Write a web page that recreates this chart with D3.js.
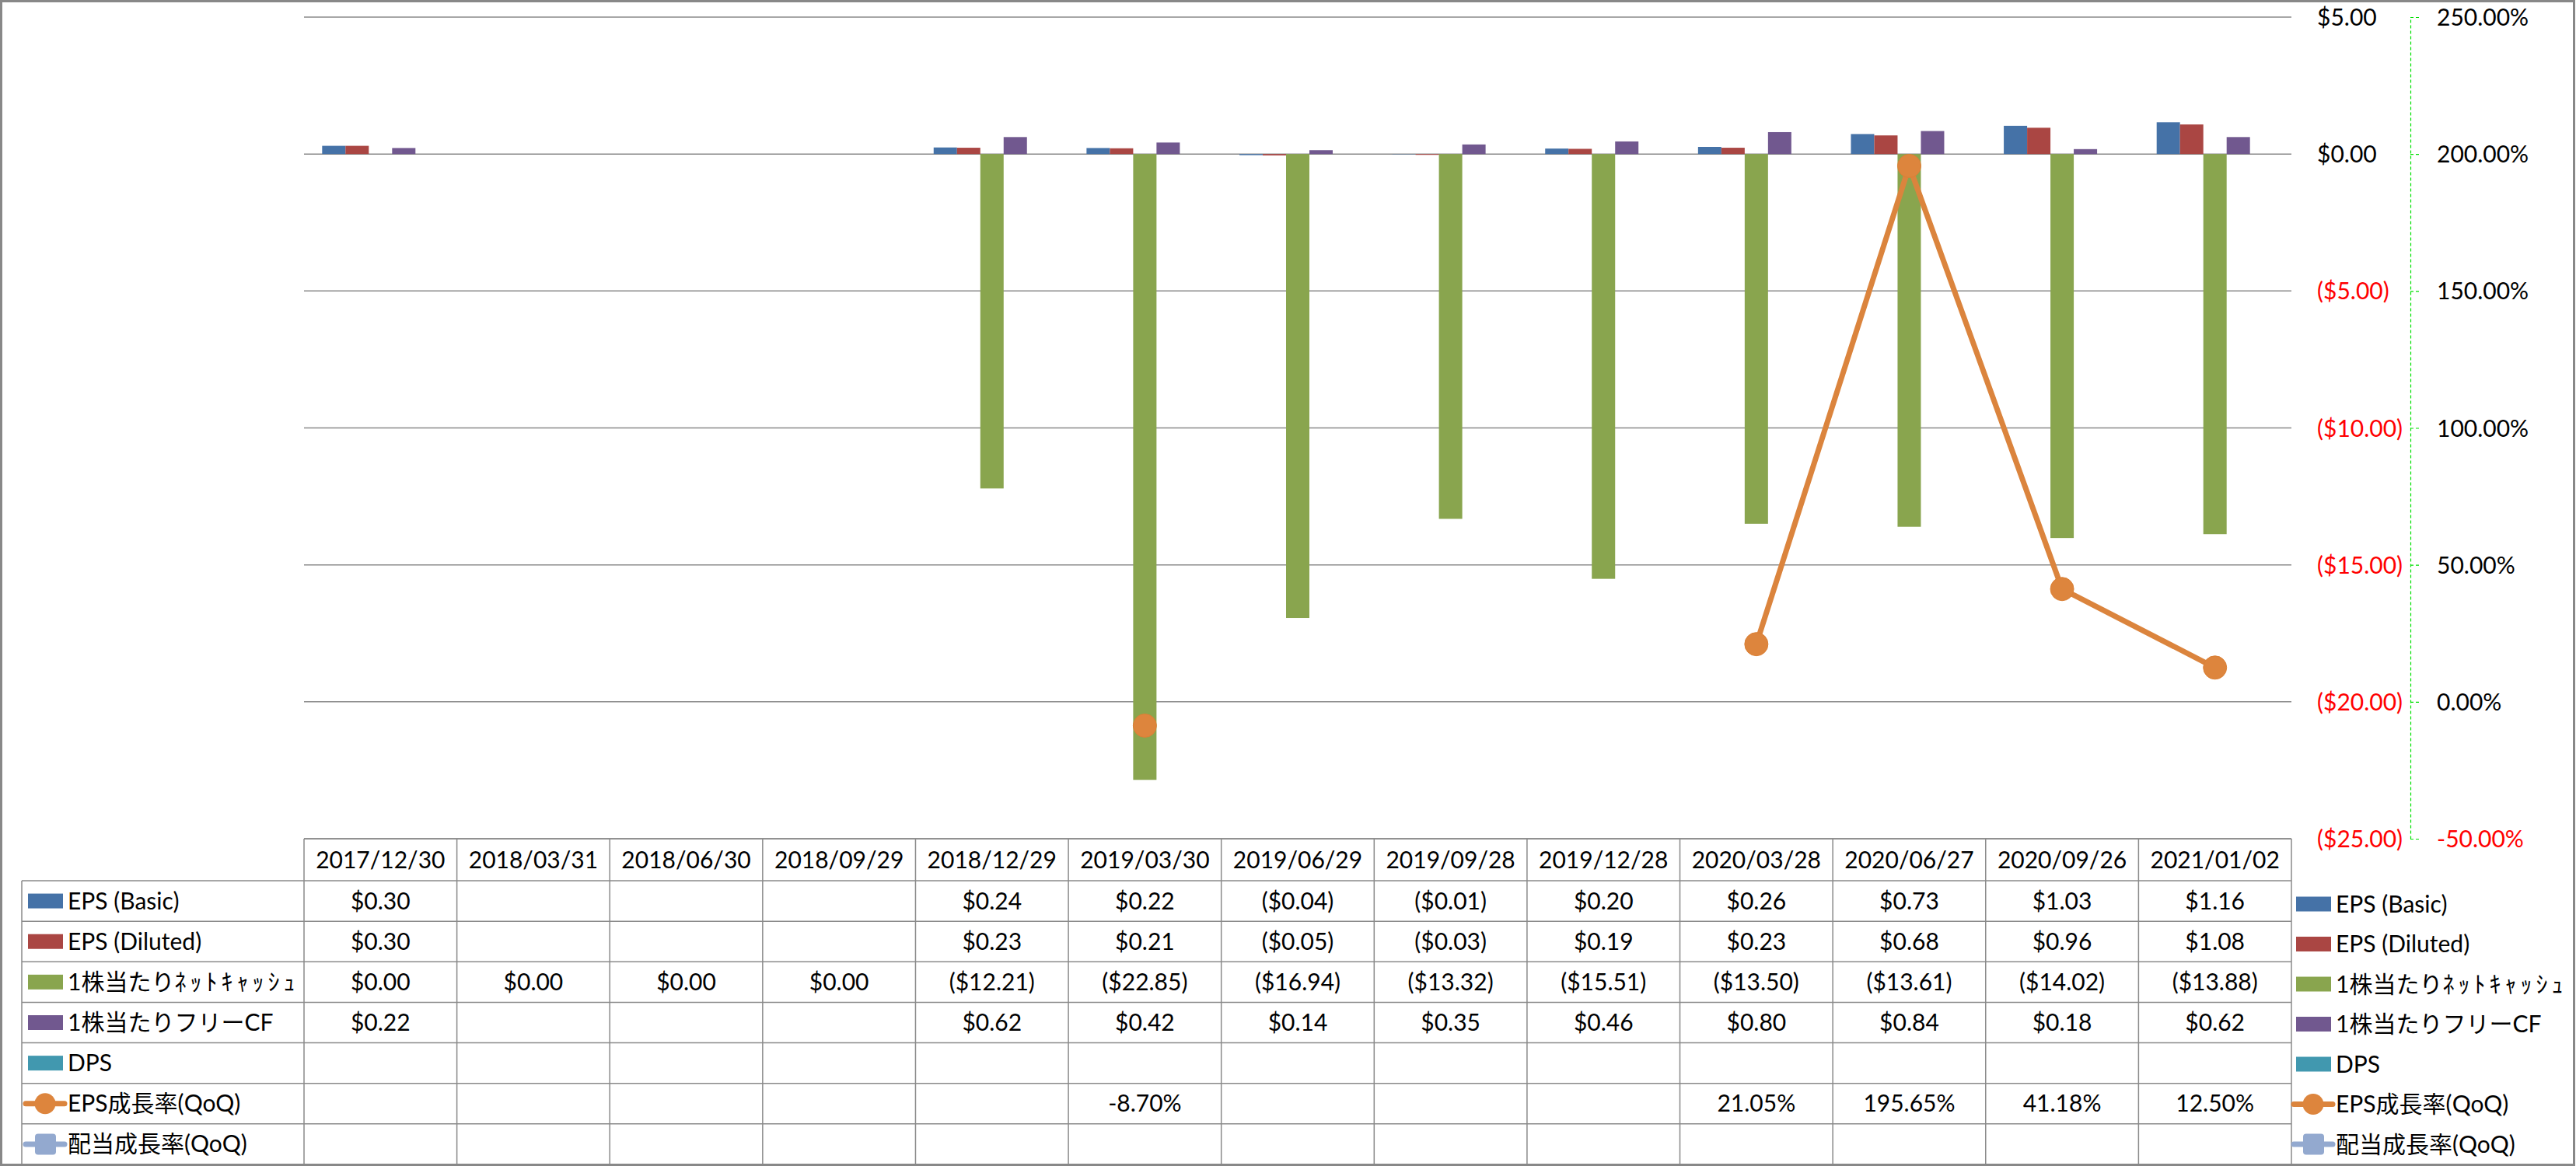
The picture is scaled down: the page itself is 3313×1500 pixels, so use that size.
<!DOCTYPE html>
<html><head><meta charset="utf-8">
<script src="https://cdn.jsdelivr.net/npm/d3@7"></script>
<style>
html,body{margin:0;padding:0;background:#fff;}
svg{display:block;}
</style></head><body>
<svg id="chart" width="3313" height="1500"></svg>
<script>
// ---------------- DATA ----------------
const categories = ["2017/12/30","2018/03/31","2018/06/30","2018/09/29","2018/12/29","2019/03/30","2019/06/29","2019/09/28","2019/12/28","2020/03/28","2020/06/27","2020/09/26","2021/01/02"];
const seriesNames = ["EPS (Basic)","EPS (Diluted)","1株当たりﾈｯﾄｷｬｯｼｭ","1株当たりフリーCF","DPS","EPS成長率(QoQ)","配当成長率(QoQ)"];
const epsBasic   = [0.30, null, null, null, 0.24, 0.22, -0.04, -0.01, 0.20, 0.26, 0.73, 1.03, 1.16];
const epsDiluted = [0.30, null, null, null, 0.23, 0.21, -0.05, -0.03, 0.19, 0.23, 0.68, 0.96, 1.08];
const netCash    = [0.00, 0.00, 0.00, 0.00, -12.21, -22.85, -16.94, -13.32, -15.51, -13.50, -13.61, -14.02, -13.88];
const freeCF     = [0.22, null, null, null, 0.62, 0.42, 0.14, 0.35, 0.46, 0.80, 0.84, 0.18, 0.62];
const dps        = [null, null, null, null, null, null, null, null, null, null, null, null, null];
const epsGrowth  = [null, null, null, null, null, -8.70, null, null, null, 21.05, 195.65, 41.18, 12.50];
const divGrowth  = [null, null, null, null, null, null, null, null, null, null, null, null, null];
const dollarTicks  = [5, 0, -5, -10, -15, -20, -25];
const percentTicks = [250, 200, 150, 100, 50, 0, -50];
const colors = ["#4572A7","#AA4643","#89A54E","#71588F","#4198AF","#DB843D","#93A9CF"];

// ---------------- LAYOUT ----------------
const W = 3313, H = 1500;
const plotL = 391, plotR = 2947, plotT = 22, plotB = 1079;
const FONT = 'Lato, "Noto Sans CJK JP", sans-serif';
const FS = 30;
const svg = d3.select("#chart");

svg.append("rect").attr("x",0).attr("y",0).attr("width",W).attr("height",H).attr("fill","#fff");

const x0 = d3.scaleBand().domain(categories).range([plotL, plotR]).padding(0);
const barSeries = [epsBasic, epsDiluted, netCash, freeCF, dps];
const x1 = d3.scaleBand().domain(d3.range(barSeries.length)).range([0, x0.bandwidth()]).paddingInner(0).paddingOuter(0.777);
const y  = d3.scaleLinear().domain([-25, 5]).range([plotB, plotT]);
const y2 = d3.scaleLinear().domain([-50, 250]).range([plotB, plotT]);

const fmtDollar = v => v < 0 ? "($" + Math.abs(v).toFixed(2) + ")" : "$" + v.toFixed(2);
const fmtPct = v => v.toFixed(2) + "%";

// gridlines
svg.append("g").selectAll("line").data(dollarTicks).join("line")
  .attr("x1", plotL).attr("x2", plotR)
  .attr("y1", d => y(d)).attr("y2", d => y(d))
  .attr("stroke", "#8A8A8A").attr("stroke-width", 1.5);

// bars
const gBars = svg.append("g");
barSeries.forEach((arr, si) => {
  gBars.append("g").selectAll("rect")
    .data(arr.map((v, i) => ({v, c: categories[i]})).filter(d => d.v != null))
    .join("rect")
    .attr("x", d => x0(d.c) + x1(si))
    .attr("width", x1.bandwidth())
    .attr("y", d => y(Math.max(0, d.v)))
    .attr("height", d => Math.abs(y(d.v) - y(0)))
    .attr("fill", colors[si]);
});

// line series (secondary axis)
const cx = c => x0(c) + x0.bandwidth() / 2;
const lineGen = d3.line().defined(d => d.v != null).x(d => cx(d.c)).y(d => y2(d.v));
const epsPts = epsGrowth.map((v, i) => ({v, c: categories[i]}));
svg.append("path").datum(epsPts).attr("d", lineGen)
  .attr("fill", "none").attr("stroke", colors[5]).attr("stroke-width", 7).attr("stroke-linejoin", "round");
svg.append("g").selectAll("circle").data(epsPts.filter(d => d.v != null)).join("circle")
  .attr("cx", d => cx(d.c)).attr("cy", d => y2(d.v)).attr("r", 15)
  .attr("fill", "#DD853D").attr("stroke", "#DB8035").attr("stroke-width", 1);
const divPts = divGrowth.map((v, i) => ({v, c: categories[i]}));
svg.append("path").datum(divPts).attr("d", lineGen)
  .attr("fill", "none").attr("stroke", colors[6]).attr("stroke-width", 7);

// dollar axis (labels only)
const axD = d3.axisRight(y).tickValues(dollarTicks).tickSize(0).tickPadding(0).tickFormat(fmtDollar);
const gD = svg.append("g").attr("transform", "translate(2980,0)").call(axD);
gD.select(".domain").remove();
gD.selectAll("text").attr("font-family", FONT).attr("font-size", FS)
  .attr("fill", d => d < 0 ? "#FF0000" : "#000").attr("dy", "0.35em").attr("x", 0);

// percent axis
const axP = d3.axisRight(y2).tickValues(percentTicks).tickSizeInner(12).tickSizeOuter(0).tickPadding(22).tickFormat(fmtPct);
const gP = svg.append("g").attr("transform", "translate(3100,0)").call(axP);
gP.select(".domain").attr("stroke", "#00E000").attr("stroke-dasharray", "4,3").attr("stroke-width", 1.2);
gP.selectAll(".tick line").attr("stroke", "#00E000").attr("stroke-dasharray", "4,3").attr("stroke-width", 1.2);
gP.selectAll("text").attr("font-family", FONT).attr("font-size", FS)
  .attr("fill", d => d < 0 ? "#FF0000" : "#000").attr("dy", "0.35em");

// ---------------- DATA TABLE ----------------
const tblL = 28, hdrT = plotB, hdrB = 1133, tblB = 1498;
const nRows = 7, rowH = (tblB - hdrB) / nRows;
const gT = svg.append("g");
const gridC = "#8A8A8A";
gT.append("line").attr("x1", plotL).attr("x2", plotR).attr("y1", hdrT).attr("y2", hdrT).attr("stroke", gridC).attr("stroke-width", 1.5);
d3.range(nRows + 1).forEach(r => {
  const yy = hdrB + r * rowH;
  gT.append("line").attr("x1", tblL).attr("x2", plotR).attr("y1", yy).attr("y2", yy).attr("stroke", gridC).attr("stroke-width", 1.5);
});
gT.append("line").attr("x1", tblL).attr("x2", tblL).attr("y1", hdrB).attr("y2", tblB).attr("stroke", gridC).attr("stroke-width", 1.5);
gT.selectAll(".vl").data(categories.concat(["__end"])).join("line").attr("class", "vl")
  .attr("x1", (d, i) => plotL + i * x0.step()).attr("x2", (d, i) => plotL + i * x0.step())
  .attr("y1", hdrT).attr("y2", tblB).attr("stroke", gridC).attr("stroke-width", 1.5);
gT.selectAll(".hd").data(categories).join("text").attr("class", "hd")
  .attr("x", d => cx(d)).attr("y", (hdrT + hdrB) / 2).attr("dy", "0.35em")
  .attr("text-anchor", "middle").attr("font-family", FONT).attr("font-size", FS).attr("fill", "#000")
  .text(d => d);
const rowData = [epsBasic, epsDiluted, netCash, freeCF, dps, epsGrowth, divGrowth];
const rowFmt = [fmtDollar, fmtDollar, fmtDollar, fmtDollar, fmtDollar, fmtPct, fmtPct];
rowData.forEach((arr, r) => {
  const yc = hdrB + r * rowH + rowH / 2;
  gT.append("g").selectAll("text").data(arr.map((v, i) => ({v, c: categories[i]})).filter(d => d.v != null))
    .join("text").attr("x", d => cx(d.c)).attr("y", yc).attr("dy", "0.35em")
    .attr("text-anchor", "middle").attr("font-family", FONT).attr("font-size", FS).attr("fill", "#000")
    .text(d => rowFmt[r](d.v));
});

// legend name writer: half-width katakana get extra spacing (wider in the original font)
function writeName(t, name) {
  const parts = name.match(/[\uFF61-\uFF9F]+|[^\uFF61-\uFF9F]+/g);
  parts.forEach(p => {
    const ts = t.append("tspan").text(p);
    if (/[\uFF61-\uFF9F]/.test(p)) ts.attr("letter-spacing", 5);
  });
}
function drawKey(g, i, x, yc) {
  if (i < 5) {
    g.append("rect").attr("x", x).attr("y", yc - 9.5).attr("width", 45).attr("height", 19).attr("fill", colors[i]);
  } else {
    g.append("line").attr("x1", x - 3).attr("x2", x + 47).attr("y1", yc).attr("y2", yc)
      .attr("stroke", colors[i]).attr("stroke-width", 7).attr("stroke-linecap", "round");
    if (i === 5) {
      g.append("circle").attr("cx", x + 22).attr("cy", yc).attr("r", 13.5).attr("fill", "#DD853D");
    } else {
      g.append("rect").attr("x", x + 9).attr("y", yc - 13.5).attr("width", 27).attr("height", 27).attr("rx", 4)
        .attr("fill", "#93A9CF");
    }
  }
}
seriesNames.forEach((name, i) => {
  const yc = hdrB + i * rowH + rowH / 2;
  const g = svg.append("g");
  drawKey(g, i, 36, yc);
  const t = g.append("text").attr("x", 87).attr("y", yc).attr("dy", "0.35em")
    .attr("font-family", FONT).attr("font-size", FS).attr("fill", "#000");
  writeName(t, name);
});
seriesNames.forEach((name, i) => {
  const yc = 1163 + i * 51.5;
  const g = svg.append("g");
  drawKey(g, i, 2953, yc);
  const t = g.append("text").attr("x", 3004).attr("y", yc).attr("dy", "0.35em")
    .attr("font-family", FONT).attr("font-size", FS).attr("fill", "#000");
  writeName(t, name);
});

// outer border
svg.append("rect").attr("x", 1.5).attr("y", 1.5).attr("width", W - 4).attr("height", H - 3)
  .attr("fill", "none").attr("stroke", "#888888").attr("stroke-width", 3);
</script>
</body></html>
